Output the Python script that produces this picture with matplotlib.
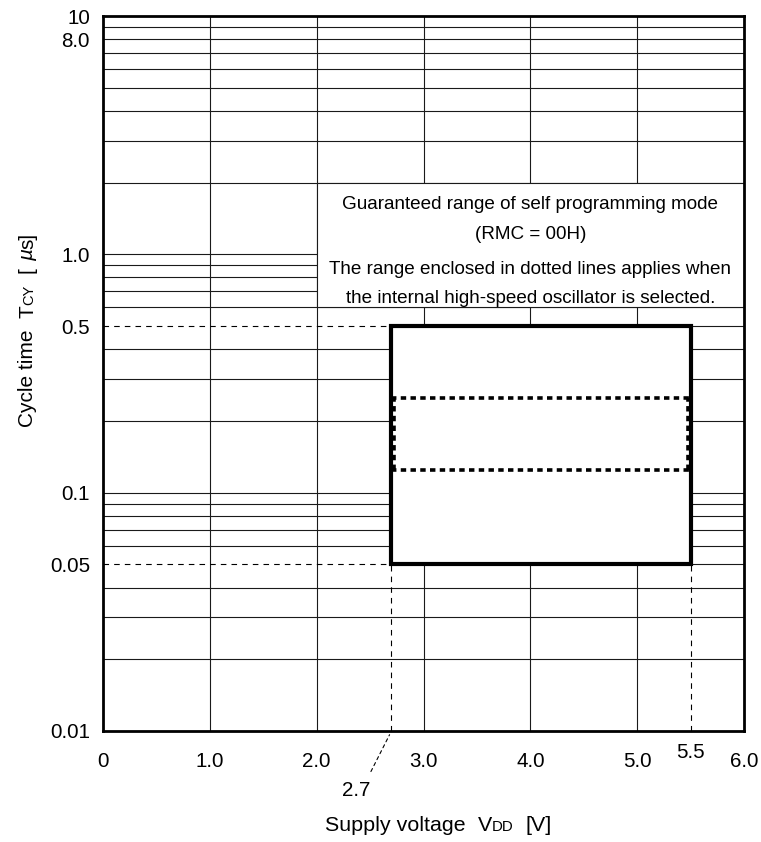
import matplotlib
matplotlib.use('Agg')
import matplotlib.pyplot as plt
from matplotlib.patches import Rectangle
from matplotlib.transforms import offset_copy

plt.rcParams['font.family'] = ['Liberation Sans', 'DejaVu Sans']

# ---------------- data ----------------
x_ticks = [0, 1, 2, 3, 4, 5, 6]
x_tick_labels = ['0', '1.0', '2.0', '3.0', '4.0', '5.0', '6.0']
y_ticks = [0.01, 0.05, 0.1, 0.5, 1.0, 8.0, 10]
y_tick_labels = ['0.01', '0.05', '0.1', '0.5', '1.0', '8.0', '10']
x_range = [0, 6]
y_range = [0.01, 10]
grid_x = [1, 2, 3, 4, 5]
grid_mantissas = [1, 2, 3, 4, 5, 6, 7, 8, 9]
grid_decades = [0.01, 0.1, 1.0]
vdd_range = [2.7, 5.5]          # guaranteed supply voltage range [V]
tcy_range = [0.05, 0.5]         # guaranteed cycle time range [us]
hs_tcy_range = [0.125, 0.25]    # internal high-speed oscillator range [us]
note_x_range = [2.0, 6.0]
note_y_range = [0.6, 2.0]
note_center_x = 4.0
note_lines = ['Guaranteed range of self programming mode',
              '(RMC = 00H)',
              'The range enclosed in dotted lines applies when',
              'the internal high-speed oscillator is selected.']

W, H, DPI = 761, 842, 100
fig = plt.figure(figsize=(W / DPI, H / DPI), dpi=DPI)
ax = fig.add_axes([103 / W, 1 - 731 / H, (744 - 103) / W, (731 - 16) / H])
ax.set_yscale('log')
ax.set_xlim(*x_range)
ax.set_ylim(*y_range)

GRID_C = '#1a1a1a'
GRID_LW = 0.8

# horizontal grid
grid_y = [m * d for d in grid_decades for m in grid_mantissas]
for gy in grid_y:
    if gy <= y_range[0] * 1.0001:
        continue
    if abs(gy - tcy_range[1]) < 1e-9 or abs(gy - tcy_range[0]) < 1e-9:
        # dashed to the left of the box, solid to the right
        ax.plot([x_range[0], vdd_range[0]], [gy, gy], color='k', lw=0.8,
                dashes=(5, 4.6), zorder=1.5)
        ax.plot([vdd_range[1], x_range[1]], [gy, gy], color=GRID_C, lw=GRID_LW, zorder=1)
    else:
        ax.axhline(gy, color=GRID_C, lw=GRID_LW, zorder=1)
for gx in grid_x:
    ax.axvline(gx, color=GRID_C, lw=GRID_LW, zorder=1)

# note area (white, hides grid)
ax.add_patch(Rectangle((note_x_range[0], note_y_range[0]),
                       note_x_range[1] - note_x_range[0],
                       note_y_range[1] - note_y_range[0],
                       facecolor='white', edgecolor=GRID_C, lw=GRID_LW, zorder=2))

# dashed drop lines below the box
for vx in vdd_range:
    ax.plot([vx, vx], [y_range[0], tcy_range[0]], color='k', lw=0.8,
            dashes=(5, 4.6), zorder=3)

# guaranteed range box
ax.add_patch(Rectangle((vdd_range[0], tcy_range[0]),
                       vdd_range[1] - vdd_range[0],
                       tcy_range[1] - tcy_range[0],
                       facecolor='white', edgecolor='black', lw=3,
                       joinstyle='miter', zorder=4))

# dotted range (slightly inside the solid box)
dot_kw = dict(color='black', lw=2.6, dashes=(1.5, 1.2), zorder=5,
              solid_capstyle='butt', dash_capstyle='butt')
tr_l = offset_copy(ax.transData, fig=fig, x=3.0, y=0, units='dots')
tr_r = offset_copy(ax.transData, fig=fig, x=-3.0, y=0, units='dots')
for hy in hs_tcy_range:
    ax.plot(vdd_range, [hy, hy], **dot_kw)
ax.plot([vdd_range[0]] * 2, hs_tcy_range, transform=tr_l, **dot_kw)
ax.plot([vdd_range[1]] * 2, hs_tcy_range, transform=tr_r, **dot_kw)

# note text
tx = ax.get_xaxis_transform()
note_y = [0.7295, 0.6875, 0.6385, 0.5986]
for s, yy in zip(note_lines, note_y):
    ax.text(note_center_x, yy, s, transform=tx, ha='center', va='baseline',
            fontsize=13.6, zorder=6)

# axes styling
for sp in ax.spines.values():
    sp.set_linewidth(2)
    sp.set_zorder(7)
ax.set_xticks(x_ticks)
ax.set_xticklabels(x_tick_labels)
ax.set_yticks(y_ticks)
ax.set_yticklabels(y_tick_labels)
ax.minorticks_off()
ax.tick_params(axis='both', length=0, labelsize=14.8)
ax.tick_params(axis='y', pad=9.4)
ax.tick_params(axis='x', pad=15.0)

# special x labels
ax.annotate('5.5', xy=(vdd_range[1], 0), xycoords=('data', 'axes fraction'),
            xytext=(0, -21), textcoords='offset pixels', ha='center', va='center',
            fontsize=14.8)
ax.annotate('2.7', xy=(vdd_range[0], 0), xycoords=('data', 'axes fraction'),
            xytext=(-35, -59), textcoords='offset pixels', ha='center', va='center',
            fontsize=14.8,
            arrowprops=dict(arrowstyle='-', color='k', lw=0.8, linestyle=(0, (3, 3)),
                            shrinkA=5, shrinkB=3, relpos=(0.85, 1.0)))

# axis labels built from pieces (subscript-like small caps)
renderer = fig.canvas.get_renderer()


def chain(start, pieces, rotation=0):
    x, y = start
    for s, size, style, gap in pieces:
        t = fig.text(x / W, y / H, s, fontsize=size, style=style, ha='left',
                     va='baseline', rotation=rotation, rotation_mode='anchor')
        bb = t.get_window_extent(renderer)
        adv = (bb.width if rotation == 0 else bb.height) + gap * size * DPI / 72
        if rotation == 0:
            x += adv
        else:
            y += adv


SP = 0.278
chain((325, H - 831), [('Supply voltage', 15.4, 'normal', 2 * SP),
                        ('V', 15.4, 'normal', 0.02),
                        ('DD', 10.8, 'normal', 2 * SP * 15.4 / 10.8),
                        ('[V]', 15.4, 'normal', 0)])
chain((33, H - 427), [('Cycle time', 15, 'normal', 2 * SP),
                       ('T', 15, 'normal', 0.02),
                       ('CY', 10.5, 'normal', 2 * SP * 15 / 10.5),
                       ('[', 15, 'normal', SP),
                       ('\u00b5', 15, 'italic', 0.02),
                       ('s]', 15, 'normal', 0)], rotation=90)

fig.savefig('out.png', dpi=DPI)
